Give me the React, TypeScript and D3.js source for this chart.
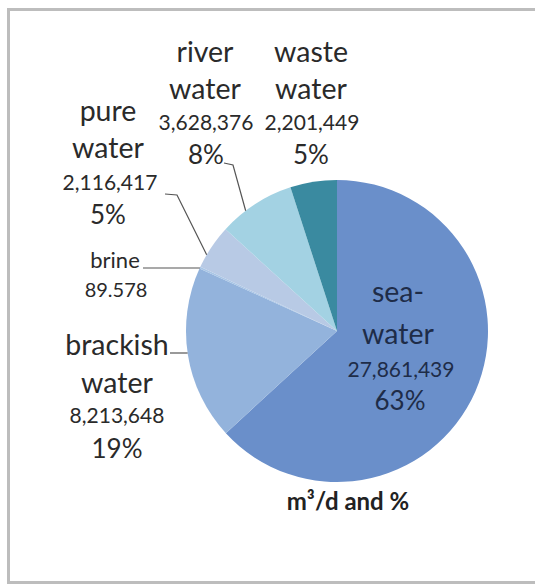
import React from "react";
import * as d3 from "d3";

const categories = ["sea-water", "brackish water", "brine", "pure water", "river water", "waste water"];
const values = [27861439, 8213648, 89578, 2116417, 3628376, 2201449];
const valueLabels = ["27,861,439", "8,213,648", "89.578", "2,116,417", "3,628,376", "2,201,449"];
const percentLabels = ["63%", "19%", "", "5%", "8%", "5%"];
const colors = ["#6a8fca", "#93b3dc", "#a9c6e6", "#b8cae5", "#a3d2e3", "#3a8aa0"];
const subtitle = "m³/d and %";

const W = 535, H = 584;
const cx = 337, cy = 331, R = 151;

export default function App() {
  const pie = d3.pie<number>().sort(null).value((d) => d);
  const arcs = pie(values);
  const arcGen = d3.arc<d3.PieArcDatum<number>>().innerRadius(0).outerRadius(R);
  const onArc = (a: d3.PieArcDatum<number>, t: number) => {
    const ang = a.startAngle + (a.endAngle - a.startAngle) * t;
    return [cx + R * Math.sin(ang), cy - R * Math.cos(ang)];
  };
  const font = "Lato, 'Open Sans', sans-serif";
  const lbl = "#2a2a2a";
  const line = "#555";
  const big = 28.5, num = 21, pct = 26;

  const riverPt = onArc(arcs[4], 0.35);
  const purePt = onArc(arcs[3], 0.3);
  const brinePt = onArc(arcs[2], 0.5);
  const brackPt = [cx - Math.sqrt(R * R - (353 - cy) ** 2), 353];

  return (
    <div style={{ position: "absolute", left: 0, top: 0 }}>
      <svg width={W} height={H} style={{ display: "block", background: "#fff" }}>
        <rect x={8.5} y={9.5} width={W + 10} height={H - 11} fill="none" stroke="#bdbdbd" strokeWidth={3} />
        <g transform={`translate(${cx},${cy})`}>
          {arcs.map((a, i) => (
            <path key={categories[i]} d={arcGen(a) || ""} fill={colors[i]} />
          ))}
        </g>
        <polyline points={`224,163 233,165 ${riverPt[0]},${riverPt[1]}`} fill="none" stroke={line} strokeWidth={1.2} />
        <polyline points={`165,194 177,195 ${purePt[0]},${purePt[1]}`} fill="none" stroke={line} strokeWidth={1.2} />
        <polyline points={`143,268 ${brinePt[0]},268`} fill="none" stroke={line} strokeWidth={1.2} />
        <polyline points={`170,353 ${brackPt[0]},353`} fill="none" stroke={line} strokeWidth={1.2} />

        <g fontFamily={font} fill={lbl} textAnchor="middle">
          <text x={205} y={62} fontSize={big}>river</text>
          <text x={205} y={99} fontSize={big}>water</text>
          <text x={206} y={130} fontSize={num}>{valueLabels[4]}</text>
          <text x={206} y={164} fontSize={pct}>{percentLabels[4]}</text>

          <text x={311} y={62} fontSize={big}>waste</text>
          <text x={311} y={99} fontSize={big}>water</text>
          <text x={312} y={130} fontSize={num}>{valueLabels[5]}</text>
          <text x={311} y={164} fontSize={pct}>{percentLabels[5]}</text>

          <text x={108} y={121} fontSize={big}>pure</text>
          <text x={108} y={158} fontSize={big}>water</text>
          <text x={110} y={190} fontSize={num}>{valueLabels[3]}</text>
          <text x={108} y={224} fontSize={pct}>{percentLabels[3]}</text>

          <text x={115} y={268} fontSize={22}>brine</text>
          <text x={116} y={297} fontSize={20}>{valueLabels[2]}</text>

          <text x={117} y={355} fontSize={big}>brackish</text>
          <text x={117} y={393} fontSize={big}>water</text>
          <text x={117} y={423} fontSize={num}>{valueLabels[1]}</text>
          <text x={117} y={458} fontSize={pct}>{percentLabels[1]}</text>
        </g>
        <g fontFamily={font} fill="#1e2c48" textAnchor="middle">
          <text x={398} y={302} fontSize={big}>sea-</text>
          <text x={398} y={344} fontSize={big}>water</text>
          <text x={401} y={377} fontSize={num}>{valueLabels[0]}</text>
          <text x={400} y={410} fontSize={pct}>{percentLabels[0]}</text>
        </g>
        <text x={348} y={510} fontFamily={font} fontWeight="bold" fontSize={24} fill="#222" textAnchor="middle">
          {subtitle}
        </text>
      </svg>
    </div>
  );
}
